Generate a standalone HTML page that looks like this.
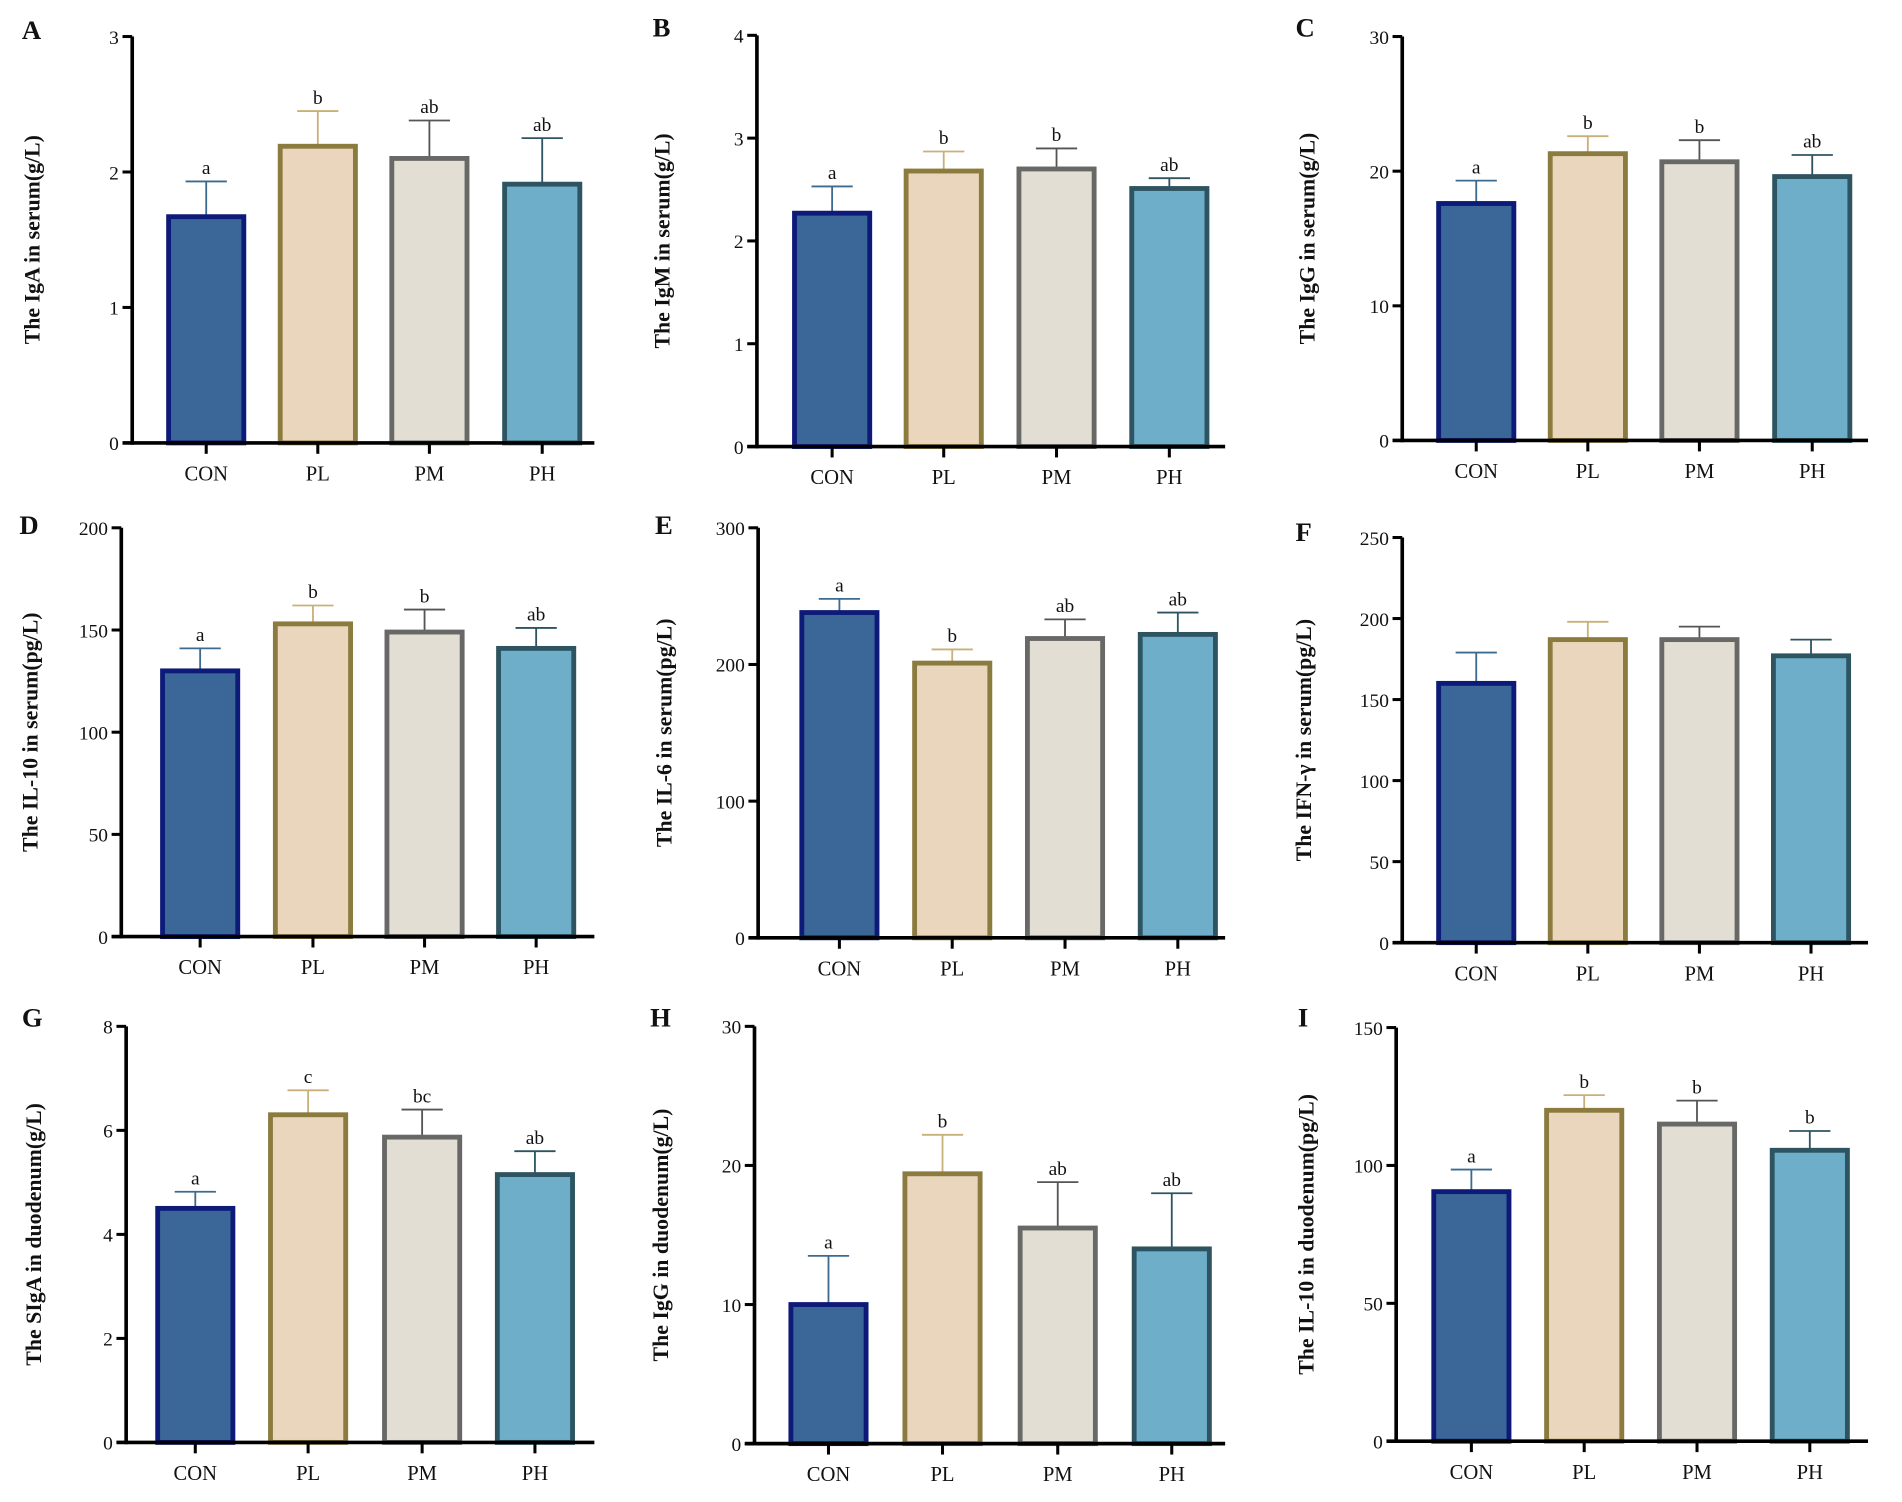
<!DOCTYPE html>
<html><head><meta charset="utf-8">
<style>
html,body{margin:0;padding:0;background:#fff;}
svg{display:block;}
text{font-family:"Liberation Serif",serif;fill:#111;}
</style></head>
<body>
<svg id="fig" width="1902" height="1502" viewBox="0 0 1568 1238" xmlns="http://www.w3.org/2000/svg"></svg>
<script>
const categories = ["CON","PL","PM","PH"];
const valsA = [1.67,2.19,2.10,1.91];   const errA = [1.93,2.45,2.38,2.25];
const valsB = [2.27,2.68,2.70,2.51];   const errB = [2.53,2.87,2.90,2.61];
const valsC = [17.6,21.3,20.7,19.6];   const errC = [19.3,22.6,22.3,21.2];
const valsD = [130,153,149,141];       const errD = [141,162,160,151];
const valsE = [238,201,219,222];       const errE = [248,211,233,238];
const valsF = [160,187,187,177];       const errF = [179,198,195,187];
const valsG = [4.5,6.3,5.87,5.15];     const errG = [4.82,6.77,6.4,5.6];
const valsH = [10.0,19.4,15.5,14.0];   const errH = [13.5,22.2,18.8,18.0];
const valsI = [90.5,120,115,105.5];    const errI = [98.5,125.5,123.5,112.5];
const lettersA = ["a","b","ab","ab"];
const lettersB = ["a","b","b","ab"];
const lettersC = ["a","b","b","ab"];
const lettersD = ["a","b","b","ab"];
const lettersE = ["a","b","ab","ab"];
const lettersF = ["","","",""];
const lettersG = ["a","c","bc","ab"];
const lettersH = ["a","b","ab","ab"];
const lettersI = ["a","b","b","b"];
const ticksA=[0,1,2,3], ticksB=[0,1,2,3,4], ticksC=[0,10,20,30], ticksD=[0,50,100,150,200],
      ticksE=[0,100,200,300], ticksF=[0,50,100,150,200,250], ticksG=[0,2,4,6,8],
      ticksH=[0,10,20,30], ticksI=[0,50,100,150];
const titles = ["The IgA in serum(g/L)","The IgM in serum(g/L)","The IgG in serum(g/L)",
  "The IL-10 in serum(pg/L)","The IL-6 in serum(pg/L)","The IFN-\u03b3 in serum(pg/L)",
  "The SIgA in duodenum(g/L)","The IgG in duodenum(g/L)","The IL-10 in duodenum(pg/L)"];

const fills=["#3b6798","#e9d6bc","#e2ded4","#6eaec8"];
const strokes=["#0e1a78","#8b7b3e","#686866","#2e5461"];
const errCols=["#3d6a8f","#c9b07a","#555","#2e5461"];

const panels=[
 {L:"A",vals:valsA,err:errA,let:lettersA,ticks:ticksA,ax:109,top:30,zero:365,xend:490,cx:[170,262,354,447],tx:27,lx:18,ly:32},
 {L:"B",vals:valsB,err:errB,let:lettersB,ticks:ticksB,ax:624,top:29,zero:368,xend:1010,cx:[686,778,871,964],tx:546,lx:538,ly:30},
 {L:"C",vals:valsC,err:errC,let:lettersC,ticks:ticksC,ax:1156,top:30,zero:363,xend:1540,cx:[1217,1309,1401,1494],tx:1078,lx:1068,ly:30},
 {L:"D",vals:valsD,err:errD,let:lettersD,ticks:ticksD,ax:100,top:435,zero:772,xend:490,cx:[165,258,350,442],tx:25,lx:16,ly:440},
 {L:"E",vals:valsE,err:errE,let:lettersE,ticks:ticksE,ax:625,top:435,zero:773,xend:1010,cx:[692,785,878,971],tx:548,lx:540,ly:440},
 {L:"F",vals:valsF,err:errF,let:lettersF,ticks:ticksF,ax:1156,top:443,zero:777,xend:1540,cx:[1217,1309,1401,1493],tx:1075,lx:1068,ly:446},
 {L:"G",vals:valsG,err:errG,let:lettersG,ticks:ticksG,ax:104,top:846,zero:1189,xend:490,cx:[161,254,348,441],tx:28,lx:18,ly:846},
 {L:"H",vals:valsH,err:errH,let:lettersH,ticks:ticksH,ax:622,top:846,zero:1190,xend:1010,cx:[683,777,872,966],tx:545,lx:536,ly:846},
 {L:"I",vals:valsI,err:errI,let:lettersI,ticks:ticksI,ax:1151,top:847,zero:1188,xend:1540,cx:[1213,1306,1399,1492],tx:1077,lx:1070,ly:846},
];
const NS="http://www.w3.org/2000/svg";
const svg=document.getElementById("fig");
function mk(tag,attrs,parent,txt){const e=document.createElementNS(NS,tag);for(const k in attrs)e.setAttribute(k,attrs[k]);if(txt!==undefined)e.textContent=txt;parent.appendChild(e);return e;}

panels.forEach((p,pi)=>{
  const g=mk("g",{},svg);
  
  
  const max=p.ticks[p.ticks.length-1];
  const y=v=>p.zero-(v/max)*(p.zero-p.top);
  const bw=62;
  // bars
  p.vals.forEach((v,i)=>{
    const cx=p.cx[i];
    const ey=y(p.err[i]);
    const el=mk("line",{x1:cx,x2:cx,y1:y(v),y2:ey,stroke:errCols[i],"stroke-width":1.5},g);
    
    
    mk("line",{x1:cx-17,x2:cx+17,y1:ey,y2:ey,stroke:errCols[i],"stroke-width":1.5},g);
    const r=mk("rect",{x:cx-bw/2,y:y(v),width:bw,height:p.zero-y(v),fill:fills[i],stroke:strokes[i],"stroke-width":4},g);
    
    
    if(p.let[i]){
      const t=mk("text",{x:cx,y:ey-6,"text-anchor":"middle","font-size":16},g,p.let[i]);
      
      
    }
    mk("line",{x1:cx,x2:cx,y1:p.zero,y2:p.zero+9,stroke:"#000","stroke-width":2.5},g);
    const c=mk("text",{x:cx,y:p.zero+31,"text-anchor":"middle","font-size":17},g,categories[i]);
    
    
  });
  // axes
  const ya=mk("line",{x1:p.ax,x2:p.ax,y1:p.top,y2:p.zero+1.5,stroke:"#000","stroke-width":3},g);
  
  
  const xa=mk("line",{x1:p.ax-8,x2:p.xend,y1:p.zero,y2:p.zero,stroke:"#000","stroke-width":3},g);
  
  
  p.ticks.forEach(t=>{
    mk("line",{x1:p.ax-8,x2:p.ax,y1:y(t),y2:y(t),stroke:"#000","stroke-width":2.5},g);
    const tl=mk("text",{x:p.ax-11,y:y(t)+6,"text-anchor":"end","font-size":16},g,String(t));
    
    
  });
  const cy=(p.top+p.zero)/2;
  const tt=mk("text",{x:p.tx,y:cy,"text-anchor":"middle","font-size":18,"font-weight":"bold",transform:`rotate(-90 ${p.tx} ${cy})`,"dominant-baseline":"central"},g,titles[pi]);
  
  
  const pl=mk("text",{x:p.lx,y:p.ly,"font-size":22,"font-weight":"bold"},g,p.L);
  
  
});
</script>
</body></html>
